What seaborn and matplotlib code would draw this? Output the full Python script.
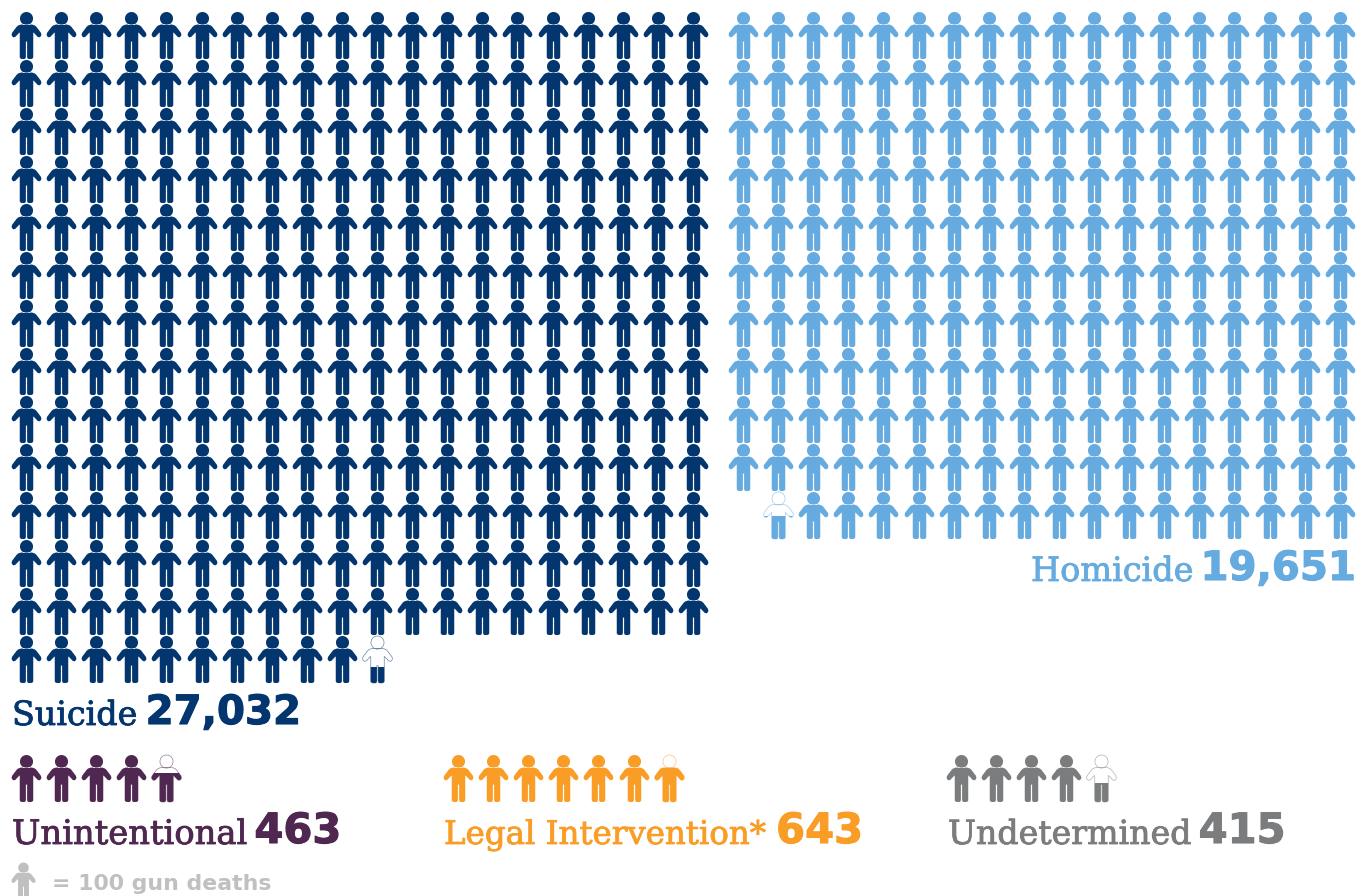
import numpy as np
import pandas as pd
import seaborn as sns
import matplotlib
matplotlib.use("Agg")
import matplotlib.pyplot as plt
import matplotlib.patheffects as pe
from matplotlib.path import Path
from matplotlib.patches import Rectangle

# Data
categories = ["Suicide", "Homicide", "Unintentional", "Legal Intervention*", "Undetermined"]
deaths = [27032, 19651, 463, 643, 415]
value_labels = ["27,032", "19,651", "463", "643", "415"]
key_label = "= 100 gun deaths"
deaths_per_icon = 100
# visible share of the last, partly filled icon
last_icon_fill = [0.34, 0.49, 0.62, 0.72, 0.40]
colours = ["#03356f", "#66abdf", "#4f2750", "#f99d27", "#7b7c7e"]
key_colour = "#c0c0c0"

# Layout in image pixels
W, H = 1367, 896
cols = [20, 18, 5, 7, 5]
x0 = [26, 743, 26, 458, 961]
y0 = [12, 12, 755, 755, 755]
align_right = [False, True, False, False, False]
PITCH_X, PITCH_Y, ICON_H = 35.1, 48.0, 47.0
label_pos = [(12, 725), (1031, 581), (12, 844), (444, 844), (948, 844)]
label_size = [24.0, 24.1, 24.3, 23.4, 23.9]
value_gap = [8, 7, 7, 10, 8]
value_size = [29, 29, 30, 30, 30]


def person():
    """Person pictogram centred on (0, 0), y up, 46 units tall."""
    t = np.linspace(0, 2 * np.pi, 37)
    head = np.c_[6.4 * np.cos(t), 16.6 + 6.4 * np.sin(t)]
    right = [(0, 12.3), (5.5, 12.3), (8.2, 13.2), (9.6, 14.4), (14, 20.2), (14.6, 22), (14.2, 23.6),
             (12.8, 24.8), (11, 24.4), (7, 20.2), (6.6, 20.2), (6.6, 44.5), (5.8, 45.6),
             (4.5, 46), (2, 46), (1, 45.4), (0.6, 44), (0.6, 29), (0, 29)]
    right = np.array(right, float)
    right[:, 1] = 23 - right[:, 1]
    left = right[::-1] * [-1, 1]
    body = np.r_[right, left]
    verts = np.r_[head, body]
    codes = ([Path.MOVETO] + [Path.LINETO] * (len(head) - 1)
             + [Path.MOVETO] + [Path.LINETO] * (len(body) - 1))
    return Path(verts, codes)


ICON = person()

sns.set_theme(style="white", rc={"figure.facecolor": "white", "axes.facecolor": "white"})
fig = plt.figure(figsize=(W / 100, H / 100), dpi=100)
ax = fig.add_axes([0, 0, 1, 1])
ax.set_xlim(0, W)
ax.set_ylim(H, 0)
ax.axis("off")


def marker_area(height_px):
    return (height_px * 72 / 100) ** 2


def draw_icons(xs, ys, colour, height=ICON_H):
    sns.scatterplot(x=xs, y=ys, marker=ICON, s=marker_area(height), color=colour,
                    linewidth=0, legend=False, ax=ax)


for i, cat in enumerate(categories):
    icons = deaths[i] / deaths_per_icon
    full = int(icons)
    slots = np.arange(full + 1)
    rows, col = slots // cols[i], slots % cols[i]
    if align_right[i]:
        # the unfilled gap of the last row sits on the left
        last = rows == rows.max()
        col = col.copy()
        col[last] = cols[i] - last.sum() + col[last]
    df = pd.DataFrame({"x": x0[i] + col * PITCH_X,
                       "y": y0[i] + ICON_H / 2 + rows * PITCH_Y})
    if align_right[i]:
        # the partial icon comes first in its row: move it to the end of the frame
        last_idx = np.where(rows == rows.max())[0]
        order = np.r_[np.arange(last_idx[0]), last_idx[1:], last_idx[0]]
        df = df.iloc[order].reset_index(drop=True)
    draw_icons(df.x[:full], df.y[:full], colours[i])

    px, py = df.x.iloc[full], df.y.iloc[full]
    # outline of the partial icon
    ax.scatter([px], [py], marker=ICON, s=marker_area(ICON_H), facecolor="white",
               edgecolor=colours[i], linewidth=0.5, alpha=0.6, zorder=3)
    # clipped filled part
    draw_icons([px], [py], colours[i])
    fill_art = ax.collections[-1]
    fill_art.set_zorder(4)
    top = py - ICON_H / 2 + (1 - last_icon_fill[i]) * ICON_H
    fill_art.set_clip_path(Rectangle((px - 30, top), 60, ICON_H, transform=ax.transData))

    lx, ly = label_pos[i]
    t = ax.text(lx, ly, cat, color=colours[i], family="DejaVu Serif",
                fontsize=label_size[i], va="baseline", ha="left",
                path_effects=[pe.withStroke(linewidth=0.6, foreground=colours[i])])
    fig.canvas.draw()
    bb = t.get_window_extent()
    ax.text(bb.x1 + value_gap[i], ly - 1, value_labels[i], color=colours[i],
            family="DejaVu Sans", fontweight="bold", fontsize=value_size[i],
            va="baseline", ha="left",
            path_effects=[pe.withStroke(linewidth=0.8, foreground=colours[i])])

# key
draw_icons([23], [881], key_colour, height=38)
ax.text(52, 890, key_label, color=key_colour, family="DejaVu Sans", fontweight="bold",
        fontsize=15.8, va="baseline", ha="left")

fig.savefig("out.png", dpi=100, facecolor="white")
